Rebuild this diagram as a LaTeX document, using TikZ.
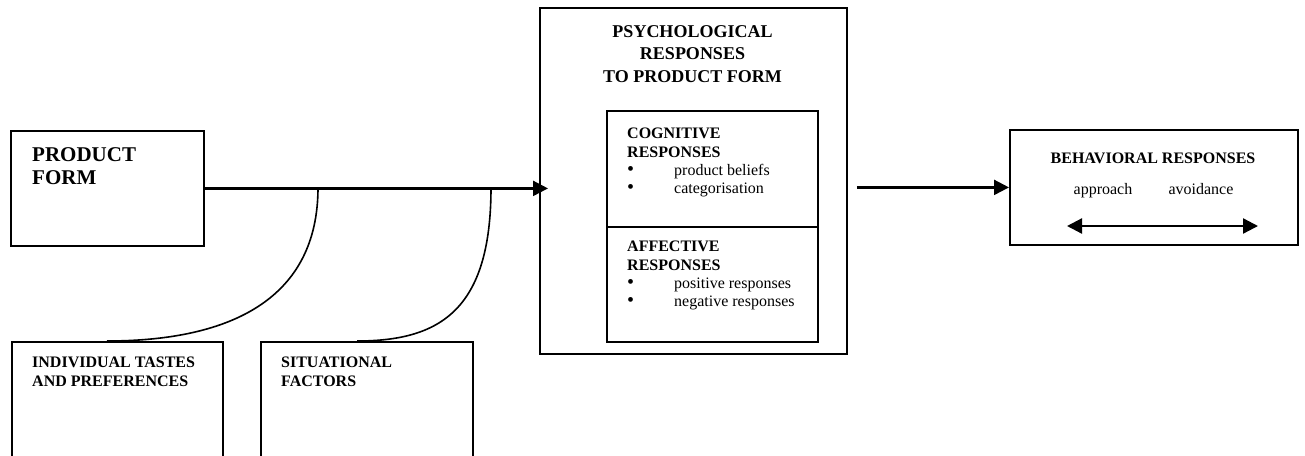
\documentclass[tikz,border=0pt]{standalone}
\usepackage{fontspec}
\setmainfont{Liberation Serif}
\usetikzlibrary{arrows.meta,calc}
\newcommand\bul{\makebox[47pt][l]{{\fontsize{20}{18}\selectfont\textbullet}}}
\begin{document}
\begin{tikzpicture}[x=1pt,y=-1pt,
 box/.style={draw,line width=1.8pt,inner sep=0pt,anchor=north west},
 lbl/.style={inner sep=0pt,anchor=north west,align=left},
 big/.style={font=\bfseries\fontsize{21}{23}\selectfont},
 ttl/.style={font=\bfseries\fontsize{18}{22.5}\selectfont},
 hdr/.style={font=\bfseries\fontsize{16}{18.5}\selectfont},
 body/.style={font=\fontsize{16}{18.3}\selectfont},
 flow/.style={line width=2.3pt,-{Triangle[length=15pt,width=15pt]}},
 both/.style={line width=2.3pt,{Triangle[length=15pt,width=15pt]}-{Triangle[length=15pt,width=15pt]}},
 link/.style={line width=1.6pt}]
\useasboundingbox (0,0) rectangle (1305,455);
\clip (0,0) rectangle (1305,455);

% boxes
\node[box,minimum width=193pt,minimum height=115pt] (pf) at (10,130) {};
\node[box,minimum width=307pt,minimum height=346pt] (psych) at (539,7) {};
\node[box,minimum width=211pt,minimum height=116pt] (cog) at (606,110) {};
\node[box,minimum width=211pt,minimum height=115pt] (aff) at (606,226) {};
\node[box,minimum width=288pt,minimum height=115pt] (beh) at (1009,129) {};
\node[box,minimum width=211pt,minimum height=150pt] (ind) at (11,341) {};
\node[box,minimum width=212pt,minimum height=150pt] (sit) at (260,341) {};

% texts
\node[lbl,big] (pft) at (32,147) {PRODUCT\\FORM};
\node[ttl,inner sep=0pt,anchor=north,align=center] (psyt) at (692.5,25)
  {PSYCHOLOGICAL\\RESPONSES\\TO PRODUCT FORM};
\node[lbl,body] (cogt) at (627,128)
  {\textbf{COGNITIVE}\\\textbf{RESPONSES}\\\bul product beliefs\\\bul categorisation};
\node[lbl,body] (afft) at (627,241)
  {\textbf{AFFECTIVE}\\\textbf{RESPONSES}\\\bul positive responses\\\bul negative responses};
\node[hdr,inner sep=0pt,anchor=north] (beht) at (1153,153) {BEHAVIORAL RESPONSES};
\node[body,inner sep=0pt,anchor=base] (appr) at (1103,194) {approach};
\node[body,inner sep=0pt,anchor=base] (avoid) at (1201,194) {avoidance};
\node[lbl,hdr] (indt) at (32,357) {INDIVIDUAL TASTES\\AND PREFERENCES};
\node[lbl,hdr] (sitt) at (281,357) {SITUATIONAL\\FACTORS};

% connectors
\coordinate (j1) at (318,187.5);
\coordinate (j2) at (491,187.5);
\draw[flow,shorten >=-9pt] (pf.east) -- (psych.west |- pf.east);
\draw[flow] ([xshift=9pt]psych.east |- beh.west) -- (beh.west);
\draw[link] (j1) .. controls (318,298) and (232,341) .. ($(ind.north west)+(96,0)$);
\draw[link] (j2) .. controls (491,310) and (440,341) .. ($(sit.north west)+(97,0)$);
\coordinate (d1) at (1067,226);
\coordinate (d2) at (1258,226);
\draw[both] (d1) -- (d2);
\end{tikzpicture}
\end{document}
